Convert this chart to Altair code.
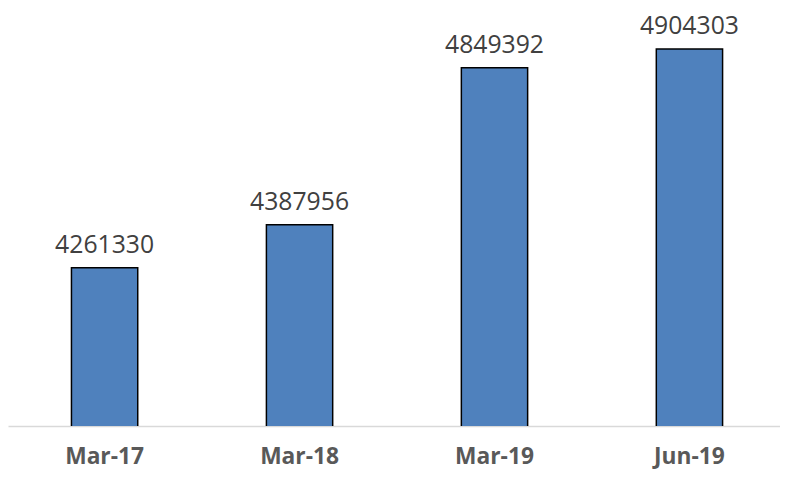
import altair as alt
import pandas as pd

categories = ["Mar-17", "Mar-18", "Mar-19", "Jun-19"]
values = [4261330, 4387956, 4849392, 4904303]

df = pd.DataFrame({"period": categories, "value": values})

FONT = "Open Sans"

base = alt.Chart(df).encode(
    x=alt.X(
        "period:N",
        sort=categories,
        title=None,
        scale=alt.Scale(paddingInner=0.66, paddingOuter=0.31, align=0.525),
        axis=alt.Axis(
            labelAngle=0,
            labelFont=FONT,
            labelFontSize=23,
            labelFontWeight="bold",
            labelColor="#595959",
            labelPadding=20,
            ticks=False,
            domainColor="#d9d9d9",
            domainWidth=1.5,
        ),
    ),
    y=alt.Y(
        "value:Q",
        title=None,
        scale=alt.Scale(domain=[3795800, 4982900], zero=False, nice=False),
        axis=None,
    ),
)

bars = base.mark_bar(
    color="#4f81bd", stroke="#000000", strokeWidth=1.5, clip=True
)

labels = base.mark_text(
    baseline="alphabetic",
    dy=-15,
    font=FONT,
    fontSize=25,
    color="#404040",
).encode(text=alt.Text("value:Q", format="d"))

chart = (
    alt.layer(bars, labels)
    .properties(
        width=780,
        height=408,
        autosize=alt.AutoSizeParams(type="none"),
        padding={"left": 0, "top": 12, "right": 0, "bottom": 47},
    )
    .configure_view(stroke=None)
)

chart.save("out.html", embed_options={"renderer": "svg", "actions": False})
